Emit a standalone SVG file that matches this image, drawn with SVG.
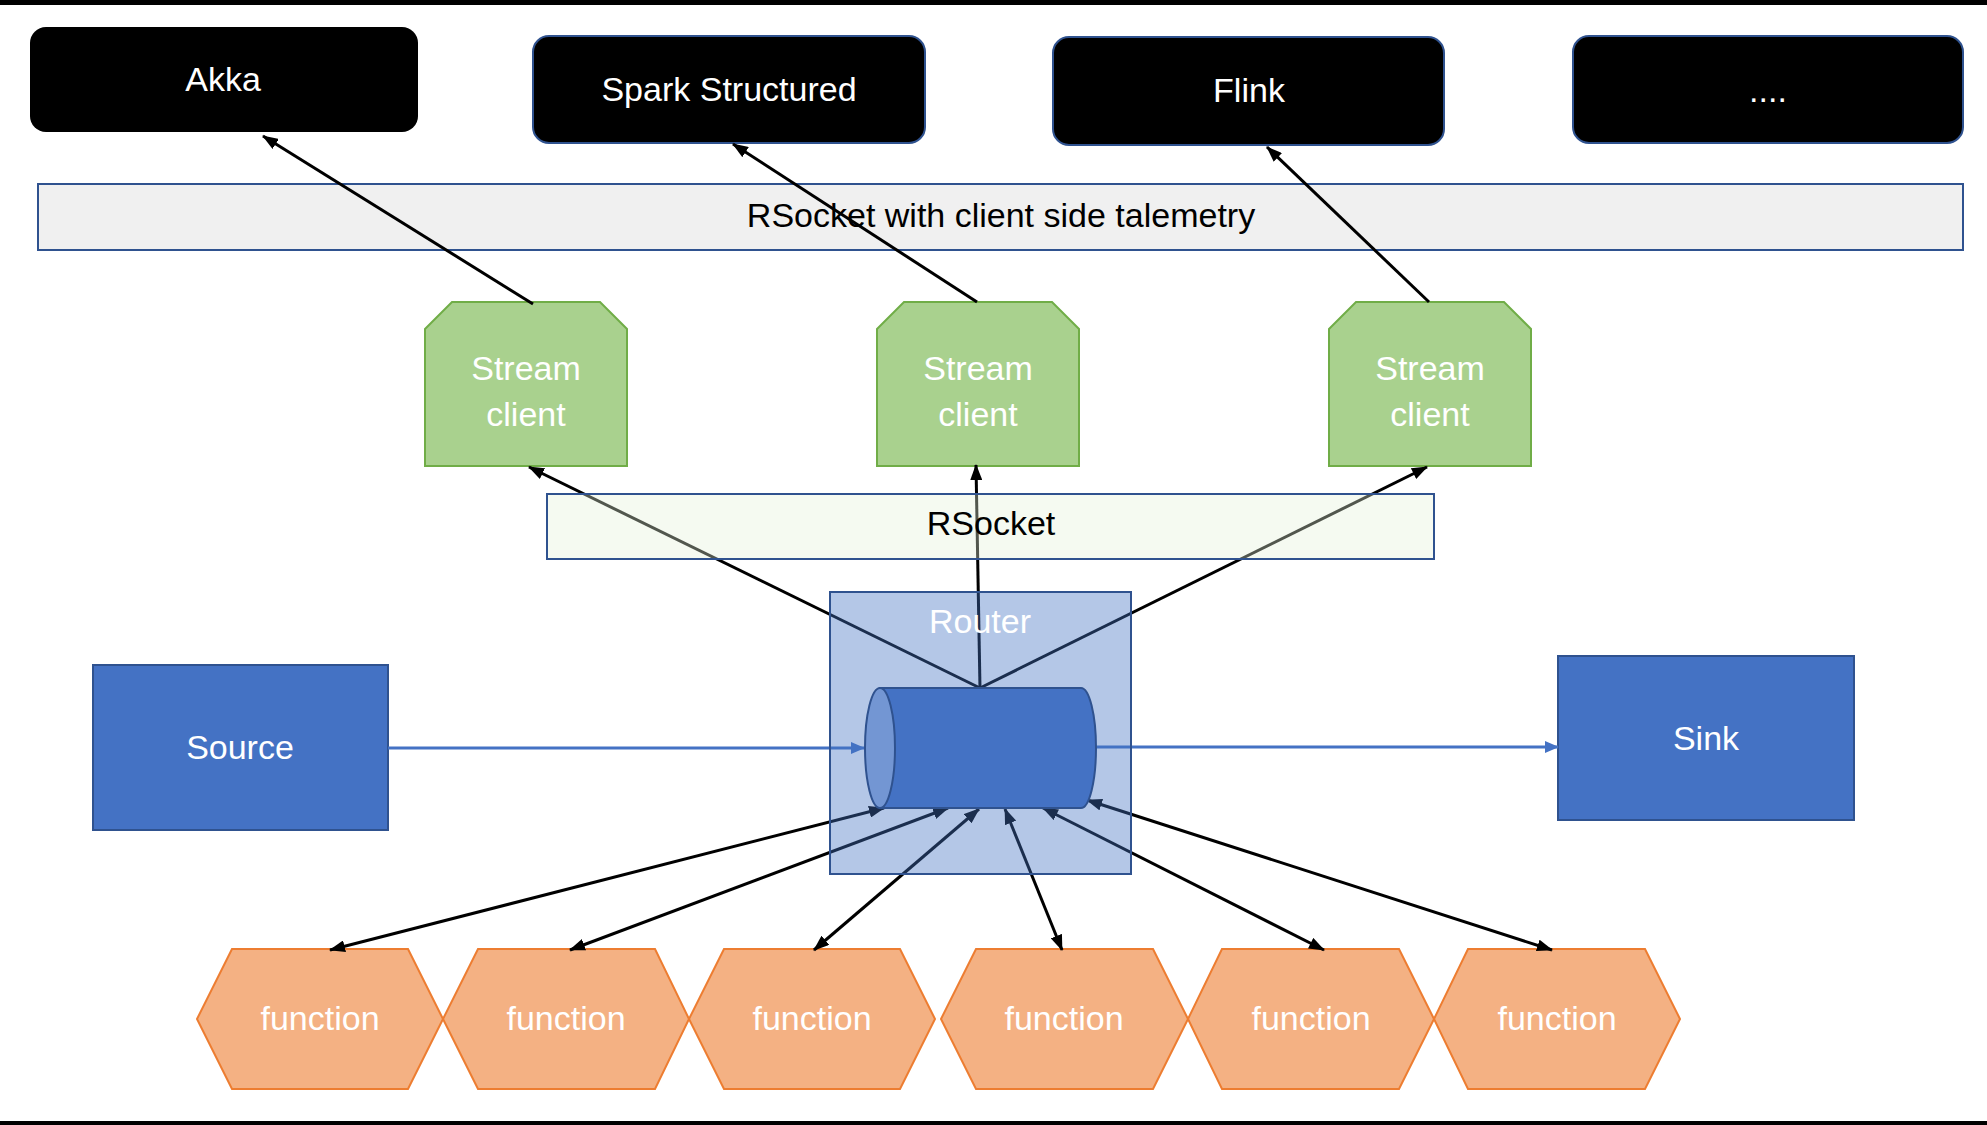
<svg xmlns="http://www.w3.org/2000/svg" width="1987" height="1125" viewBox="0 0 1987 1125">
<style>
text{font-family:"Liberation Sans",Arial,sans-serif;font-size:34px;text-anchor:middle}
.w{fill:#fff}
.k{fill:#000}
.blk{fill:#000;stroke:#2F528F;stroke-width:2}
.sc{fill:#A9D18E;stroke:#70AD47;stroke-width:2}
.fn{fill:#F4B183;stroke:#ED7D31;stroke-width:2}
.bl{fill:#4472C4;stroke:#2F528F;stroke-width:2}
.c{stroke:#000;stroke-width:3;fill:none}
</style>
<defs>
<marker id="ah" markerUnits="userSpaceOnUse" markerWidth="16" markerHeight="12" refX="15" refY="6" orient="auto-start-reverse"><path d="M0,0 L16,6 L0,12 Z" fill="#000"/></marker>
<marker id="ab" markerUnits="userSpaceOnUse" markerWidth="14" markerHeight="12" refX="13" refY="6" orient="auto"><path d="M0,0 L14,6 L0,12 Z" fill="#4472C4"/></marker>
</defs>
<rect x="0" y="0" width="1987" height="1125" fill="#fff"/>
<rect x="0" y="0" width="1987" height="5" fill="#000"/>
<rect x="0" y="1121" width="1987" height="4" fill="#000"/>

<g id="akka"><rect x="30" y="27" width="388" height="105" rx="16" fill="#000"/><text class="w" x="223" y="91">Akka</text></g>
<g id="spark"><rect class="blk" x="533" y="36" width="392" height="107" rx="16"/><text class="w" x="729" y="101">Spark Structured</text></g>
<g id="flink"><rect class="blk" x="1053" y="37" width="391" height="108" rx="16"/><text class="w" x="1249" y="102">Flink</text></g>
<g id="more"><rect class="blk" x="1573" y="36" width="390" height="107" rx="16"/><text class="w" x="1768" y="102">....</text></g>

<g id="telemetry"><rect x="38" y="184" width="1925" height="66" fill="#F0F0F0" stroke="#2F528F" stroke-width="2"/><text class="k" x="1001" y="227">RSocket with client side talemetry</text></g>

<g id="client1"><path class="sc" d="M425,329 L452,302 L600,302 L627,329 L627,466 L425,466 Z"/><text class="w" x="526" y="380">Stream</text><text class="w" x="526" y="426">client</text></g>
<g id="client2"><path class="sc" d="M877,329 L904,302 L1052,302 L1079,329 L1079,466 L877,466 Z"/><text class="w" x="978" y="380">Stream</text><text class="w" x="978" y="426">client</text></g>
<g id="client3"><path class="sc" d="M1329,329 L1356,302 L1504,302 L1531,329 L1531,466 L1329,466 Z"/><text class="w" x="1430" y="380">Stream</text><text class="w" x="1430" y="426">client</text></g>

<g id="source"><rect class="bl" x="93" y="665" width="295" height="165"/><text class="w" x="240" y="759">Source</text></g>
<g id="sink"><rect class="bl" x="1558" y="656" width="296" height="164"/><text class="w" x="1706" y="750">Sink</text></g>

<g id="function1"><path class="fn" d="M197,1019 L232,949 L408,949 L443,1019 L408,1089 L232,1089 Z"/><text class="w" x="320" y="1030">function</text></g>
<g id="function2"><path class="fn" d="M443,1019 L478,949 L655,949 L689,1019 L655,1089 L478,1089 Z"/><text class="w" x="566" y="1030">function</text></g>
<g id="function3"><path class="fn" d="M689,1019 L724,949 L900,949 L935,1019 L900,1089 L724,1089 Z"/><text class="w" x="812" y="1030">function</text></g>
<g id="function4"><path class="fn" d="M941,1019 L976,949 L1153,949 L1188,1019 L1153,1089 L976,1089 Z"/><text class="w" x="1064" y="1030">function</text></g>
<g id="function5"><path class="fn" d="M1188,1019 L1222,949 L1399,949 L1434,1019 L1399,1089 L1222,1089 Z"/><text class="w" x="1311" y="1030">function</text></g>
<g id="function6"><path class="fn" d="M1434,1019 L1468,949 L1645,949 L1680,1019 L1645,1089 L1468,1089 Z"/><text class="w" x="1557" y="1030">function</text></g>

<g id="connectors">
<line class="c" x1="533" y1="304" x2="263" y2="136" marker-end="url(#ah)"/>
<line class="c" x1="977" y1="302" x2="733" y2="144" marker-end="url(#ah)"/>
<line class="c" x1="1429" y1="302" x2="1267" y2="147" marker-end="url(#ah)"/>
<line class="c" x1="980" y1="688" x2="529" y2="467" marker-end="url(#ah)"/>
<line class="c" x1="980" y1="688" x2="976" y2="465" marker-end="url(#ah)"/>
<line class="c" x1="980" y1="688" x2="1427" y2="467" marker-end="url(#ah)"/>
<line x1="388" y1="748" x2="864" y2="748" stroke="#4472C4" stroke-width="3" marker-end="url(#ab)"/>
<line x1="1096" y1="747" x2="1558" y2="747" stroke="#4472C4" stroke-width="3" marker-end="url(#ab)"/>
<line class="c" x1="884" y1="808" x2="330" y2="950" marker-start="url(#ah)" marker-end="url(#ah)"/>
<line class="c" x1="948" y1="808" x2="570" y2="950" marker-start="url(#ah)" marker-end="url(#ah)"/>
<line class="c" x1="979" y1="809" x2="814" y2="950" marker-start="url(#ah)" marker-end="url(#ah)"/>
<line class="c" x1="1005" y1="809" x2="1062" y2="950" marker-start="url(#ah)" marker-end="url(#ah)"/>
<line class="c" x1="1043" y1="808" x2="1324" y2="950" marker-start="url(#ah)" marker-end="url(#ah)"/>
<line class="c" x1="1087" y1="800" x2="1552" y2="950" marker-start="url(#ah)" marker-end="url(#ah)"/>
</g>

<g id="rsocket"><rect x="547" y="494" width="887" height="65" fill="#E2F0D9" fill-opacity="0.36" stroke="#2F528F" stroke-width="2"/><text class="k" x="991" y="535">RSocket</text></g>

<g id="router">
<rect x="830" y="592" width="301" height="282" fill="#4472C4" fill-opacity="0.4" stroke="#2F528F" stroke-width="2"/>
<text class="w" x="980" y="633">Router</text>
<path d="M880,688 H1081 A15,60 0 0 1 1081,808 H880 Z" fill="#4472C4" stroke="#2F528F" stroke-width="2"/>
<ellipse cx="880" cy="748" rx="15" ry="60" fill="#7396D3" stroke="#2F528F" stroke-width="2"/>
</g>
</svg>
